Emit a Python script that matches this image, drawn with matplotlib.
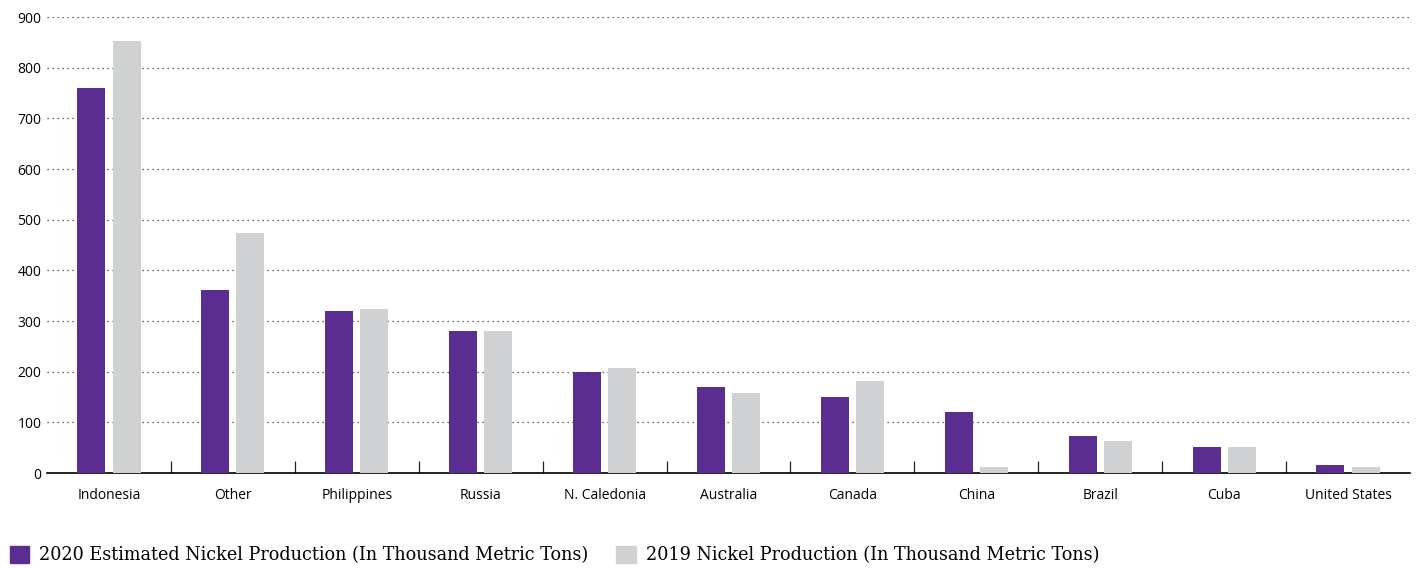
import numpy as np
import matplotlib.pyplot as plt
from matplotlib.patches import Patch

# data (thousand metric tons)
countries = ['Indonesia', 'Other', 'Philippines', 'Russia', 'N. Caledonia', 'Australia',
             'Canada', 'China', 'Brazil', 'Cuba', 'United States']
prod_2020 = [760, 361, 320, 280, 200, 170, 150, 120, 73, 51, 16]
prod_2019 = [853, 474, 323, 280, 208, 158, 181, 12, 63, 51, 12]

purple = '#5c2d91'
grey = '#d0d1d3'

fig = plt.figure(figsize=(14.21, 5.68), dpi=100)
ax = fig.add_axes([47 / 1421, 0.167, 1363 / 1421, 0.803])

x = np.arange(len(countries))
w = 0.226
ax.bar(x - 0.142, prod_2020, width=w, color=purple, zorder=3)
ax.bar(x + 0.142, prod_2019, width=w, color=grey, zorder=3)

ax.set_xlim(-0.5, len(countries) - 0.5)
ax.set_ylim(0, 900)
ax.set_yticks(range(0, 901, 100))
ax.yaxis.grid(True, linestyle=(0, (1, 3)), color='#333333', linewidth=0.9, zorder=0)

for s in ['left', 'top', 'right']:
    ax.spines[s].set_visible(False)
ax.spines['bottom'].set_linewidth(1.2)
ax.spines['bottom'].set_color('black')

ax.set_xticks(x)
ax.set_xticklabels(countries, fontsize=10, family='Open Sans')
ax.tick_params(axis='x', which='major', length=0, pad=11)
ax.set_xticks(np.arange(0.5, len(countries) - 1, 1), minor=True)
ax.tick_params(axis='x', which='minor', direction='in', length=9, width=0.9, color='#222222')
ax.tick_params(axis='y', length=0, labelsize=10, pad=4)
for t in ax.get_yticklabels():
    t.set_family('Open Sans')

handles = [Patch(color=purple, label='2020 Estimated Nickel Production (In Thousand Metric Tons)'),
           Patch(color=grey, label='2019 Nickel Production (In Thousand Metric Tons)')]
fig.legend(handles=handles, loc='lower left', bbox_to_anchor=(0.003, -0.003), ncol=2,
           frameon=False, handlelength=1.12, handleheight=1.12, handletextpad=0.55,
           columnspacing=1.6, prop={'family': 'DejaVu Serif', 'size': 12.7},
           borderaxespad=0.2, borderpad=0.1)

fig.savefig('out.png', dpi=100)
